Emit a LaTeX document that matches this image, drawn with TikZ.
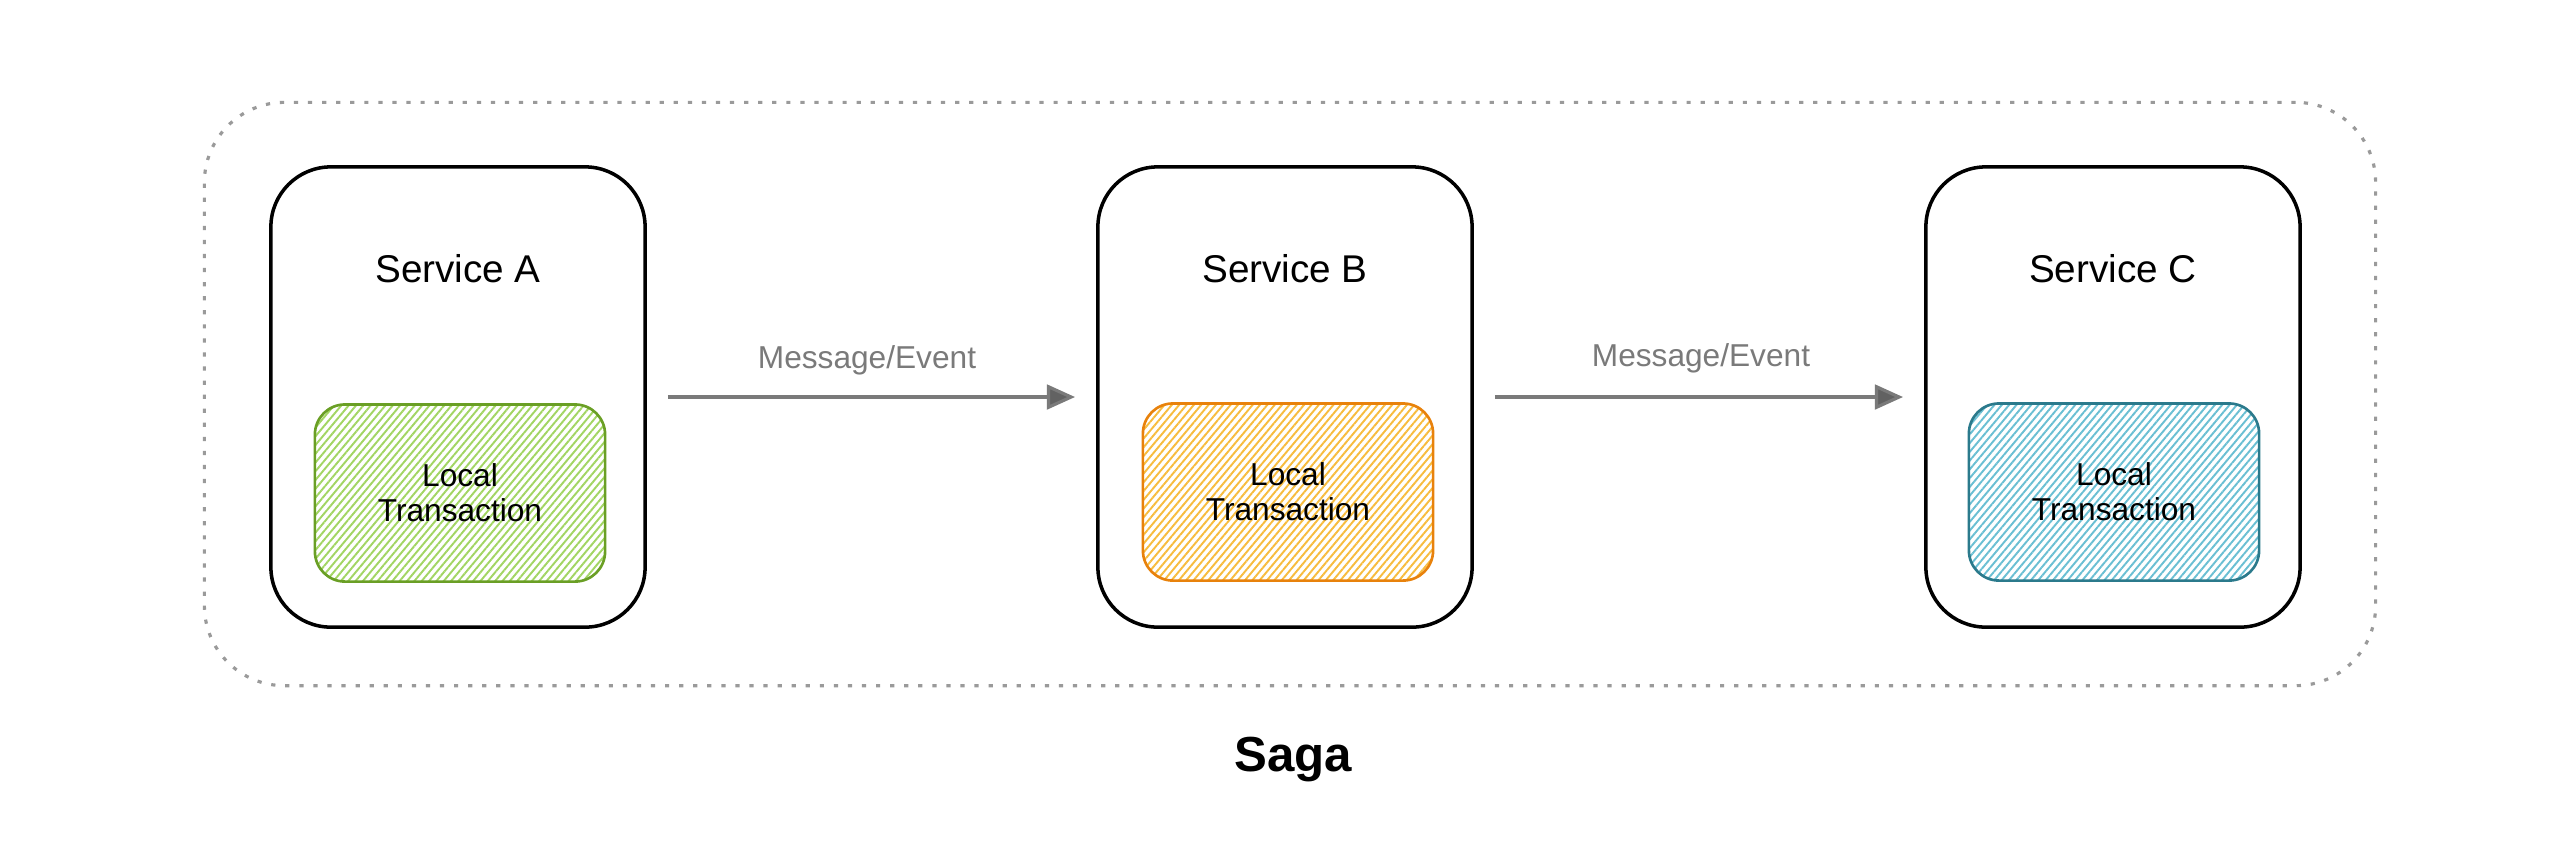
\documentclass[tikz,border=0pt]{standalone}
\usepackage{fontspec}
\setmainfont{Liberation Sans}
\usetikzlibrary{arrows.meta,patterns.meta}
\definecolor{greenS}{HTML}{6A9F25}
\definecolor{greenF}{HTML}{A2D563}
\definecolor{orangeS}{HTML}{E8820C}
\definecolor{orangeF}{HTML}{F7BC3E}
\definecolor{blueS}{HTML}{2B7A8C}
\definecolor{blueF}{HTML}{6ABFD3}
\definecolor{msg}{HTML}{7A7A7A}
\definecolor{dots}{HTML}{9A9A9A}
\begin{document}
\begin{tikzpicture}[x=0.01cm,y=-0.01cm,
 sagabox/.style={draw=dots,line width=0.9pt,dash pattern=on 1.2pt off 2.8pt,rounded corners=0.8cm,minimum width=21.7cm,minimum height=5.83cm},
 service/.style={draw=black,line width=1pt,rounded corners=0.6cm,minimum width=3.74cm,minimum height=4.6cm},
 servlabel/.style={font=\fontsize{11}{13}\selectfont},
 localtx/.style={line width=0.75pt,rounded corners=0.3cm,minimum width=2.9cm,minimum height=1.77cm,align=center,font=\fontsize{9}{10}\selectfont,pattern={Lines[angle=50,distance=1.6pt,line width=0.55pt]}},
 flow/.style={draw=msg,line width=0.9pt,-{Triangle[length=8pt,width=7pt,fill=msg!80!black]},shorten <=6pt,shorten >=6pt},
 msglabel/.style={text=msg,font=\fontsize{9}{11}\selectfont},
 sagalabel/.style={font=\bfseries\fontsize{14}{16}\selectfont}
]
\useasboundingbox (0,0) rectangle (2574,856);
\node[sagabox] (saga) at (1290,394) {};
\node[service] (A) at (458,397) {};
\node[service] (B) at (1285,397) {};
\node[service] (C) at (2113,397) {};
\node[servlabel] (Alab) at (458,269) {Service A};
\node[servlabel] (Blab) at (1285,269) {Service B};
\node[servlabel] (Clab) at (2113,269) {Service C};
\node[localtx,draw=greenS,pattern color=greenF] (LA) at (460,493) {Local\\Transaction};
\node[localtx,draw=orangeS,pattern color=orangeF] (LB) at (1288,492) {Local\\Transaction};
\node[localtx,draw=blueS,pattern color=blueF] (LC) at (2114,492) {Local\\Transaction};
\draw[flow] (A) -- (B);
\draw[flow] (B) -- (C);
\node[msglabel] (m1) at (867,360) {Message/Event};
\node[msglabel] (m2) at (1701,358) {Message/Event};
\node[sagalabel] (sagalab) at (1293,760) {Saga};
\end{tikzpicture}
\end{document}
